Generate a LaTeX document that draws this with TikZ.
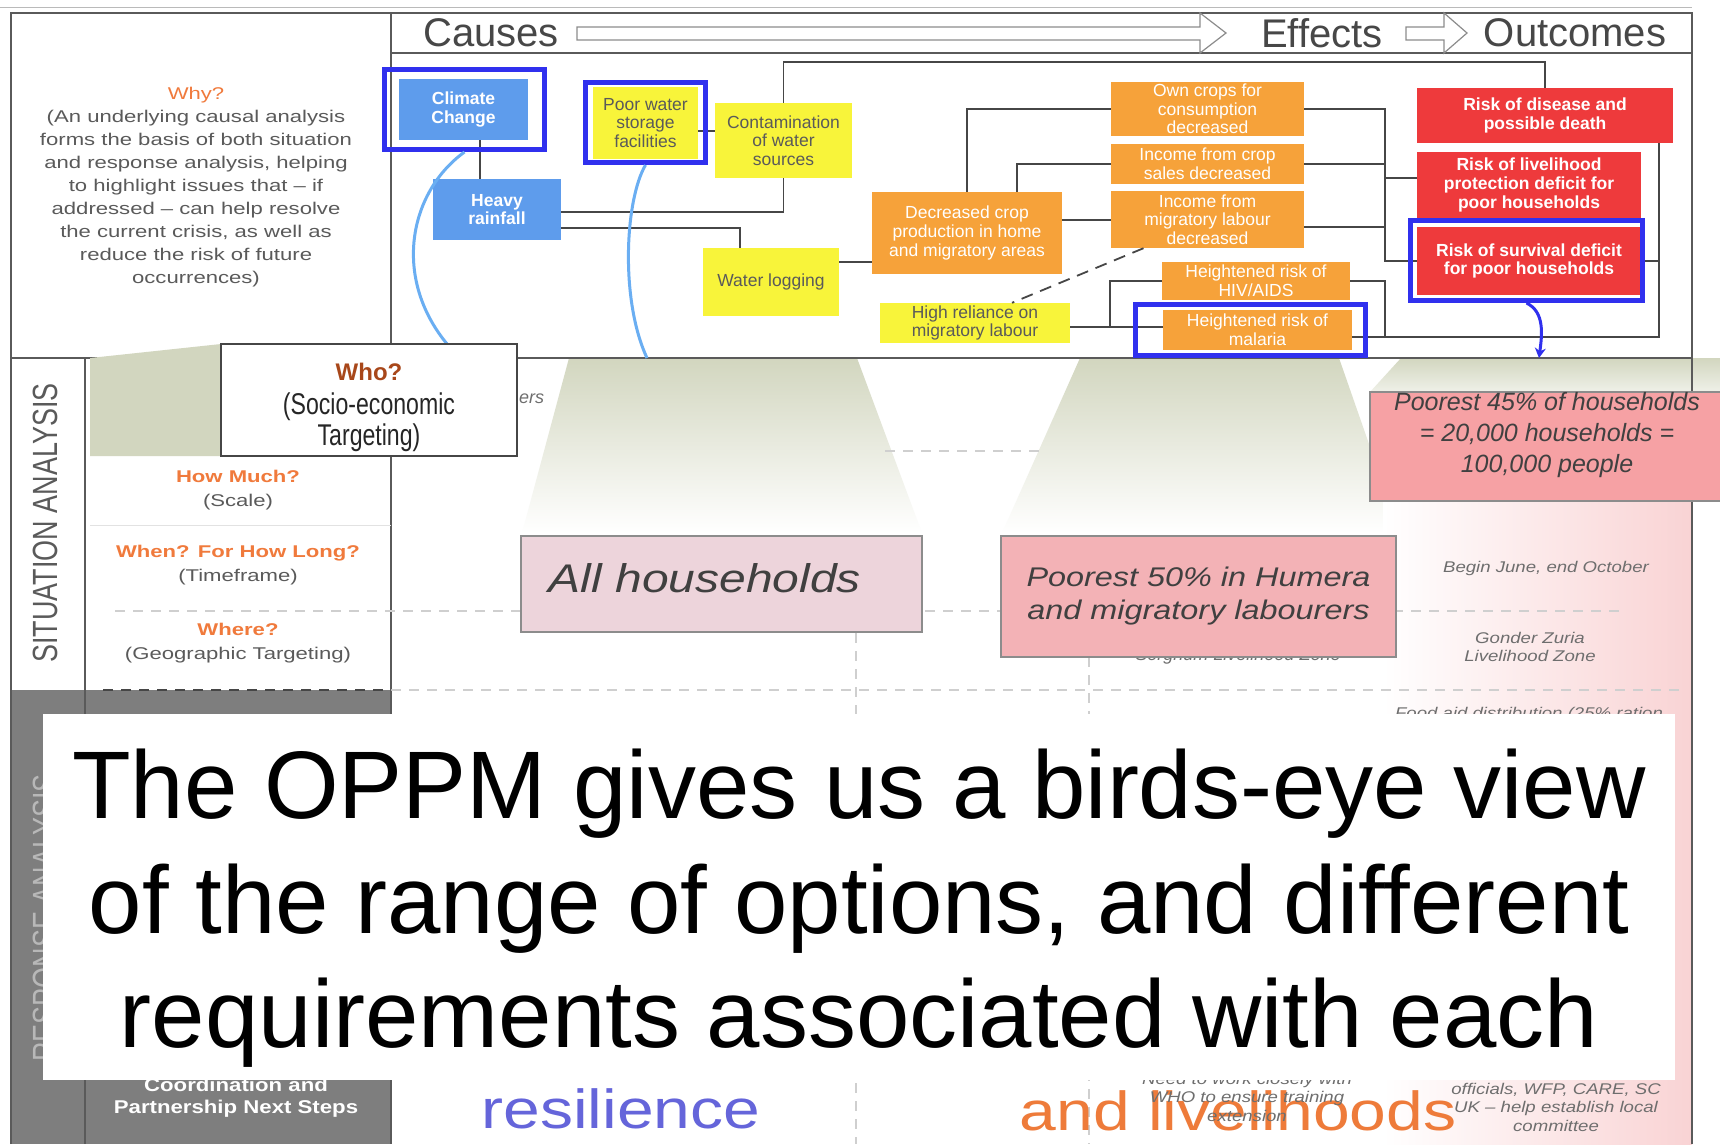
\documentclass[tikz,border=0pt]{standalone}
\usepackage{fontspec}
\setmainfont{Liberation Sans}
\newfontfamily\widesans[FakeStretch=1.2]{Liberation Sans}
\newfontfamily\widersans[FakeStretch=1.3]{Liberation Sans}
\newfontfamily\narrowsans[FakeStretch=0.77]{Liberation Sans}
\usetikzlibrary{arrows.meta}
\definecolor{ccblue}{HTML}{5E9CEC}
\definecolor{postit}{HTML}{F8F43A}
\definecolor{effor}{HTML}{F6A23A}
\definecolor{outred}{HTML}{EE3A3C}
\definecolor{hiblue}{HTML}{3030EE}
\definecolor{skyline}{HTML}{6AAEF2}
\definecolor{wire}{HTML}{464646}
\definecolor{sage}{HTML}{D2D6BF}
\definecolor{pinkwash}{HTML}{F9D3D4}
\definecolor{rosy}{HTML}{EDD4DB}
\definecolor{salmon}{HTML}{F3B2B6}
\definecolor{coral}{HTML}{F6A1A4}
\definecolor{boxedge}{HTML}{8C8C8C}
\definecolor{qorange}{HTML}{F07A3C}
\definecolor{whybrown}{HTML}{A8471A}
\definecolor{txtgray}{HTML}{5A5A5A}
\definecolor{notegray}{HTML}{6E6E6E}
\definecolor{darkband}{HTML}{7E7E7E}
\definecolor{bandtxt}{HTML}{B8B8B8}
\definecolor{resil}{HTML}{6565DA}
\definecolor{livor}{HTML}{EE7B3A}
\definecolor{headgray}{HTML}{474747}
\definecolor{ruleline}{HTML}{CFCFCF}
\definecolor{frameline}{HTML}{5A5A5A}
\def\fsz#1#2{\fontsize{#1}{#2}\selectfont}
\tikzset{
  box/.style={inner sep=0pt, align=center, font=\fsz{17.5}{18.6}},
  causebox/.style={box, fill=ccblue, text=white, font=\fsz{17.5}{18.6}\bfseries},
  postbox/.style={box, fill=postit, text=txtgray},
  effbox/.style={box, fill=effor, text=white},
  riskbox/.style={box, fill=outred, text=white, font=\fsz{17.5}{18.6}\bfseries},
  hilite/.style={draw=hiblue, line width=5pt, inner sep=0pt},
  link/.style={draw=wire, line width=1.8pt},
  swoop/.style={draw=skyline, line width=3pt},
  rim/.style={draw=frameline, line width=1.5pt},
  arrowrim/.style={fill=white, draw=boxedge, line width=1.2pt},
  headtxt/.style={inner sep=0pt, font=\fsz{40}{40}, text=headgray},
  popbox/.style={draw=boxedge, line width=1.2pt, inner sep=0pt, align=center, text=darkgray},
  note/.style={inner sep=0pt, align=center, font=\widesans\itshape\fsz{15.5}{18.5}, text=notegray},
  tableline/.style={draw=ruleline, line width=1.2pt, dash pattern=on 10pt off 8pt},
  lefttxt/.style={inner sep=0pt, align=center, font=\widersans\fsz{17}{24}, text=txtgray},
  bigsay/.style={inner sep=0pt, anchor=base, font=\fsz{96}{115}},
}
\begin{document}
\begin{tikzpicture}[x=1pt,y=-1pt]
\useasboundingbox (0,0) rectangle (1720,1144);
\fill[white] (0,0) rectangle (1720,1144);
%%%%% BACKDROP %%%%%
\shade[top color=sage, bottom color=white] (569,358) -- (857,358) -- (922,533) -- (522,533) -- cycle;
\shade[top color=sage, bottom color=white] (1080,358) -- (1339,358) -- (1400,533) -- (1002,533) -- cycle;
\shade[left color=white, right color=pinkwash] (1383,392) rectangle (1692,1144);
\shade[top color=sage, bottom color=sage!35] (1401,358) -- (1720,358) -- (1720,392) -- (1370,392) -- cycle;
\fill[darkband] (11,690) rectangle (391,1144);

%%%%% FRAME %%%%%
\draw[boxedge!60, line width=1pt] (0,7) -- (1692,7);
\draw[rim] (11,1144) -- (11,13) -- (1692,13) -- (1692,1144);
\draw[rim] (391,53) -- (1692,53);
\draw[rim] (391,13) -- (391,1144);
\draw[rim] (11,358) -- (1692,358);
\draw[rim] (85,358) -- (85,1144);
\draw[ruleline!60, line width=1pt] (90,525) -- (391,525);
\draw[tableline] (115,611) -- (1619,611);
\draw[tableline] (391,690) -- (1679,690);
\draw[tableline, draw=wire] (103,690) -- (391,690);
\draw[tableline] (885,451) -- (1040,451);
\draw[tableline] (856,633) -- (856,1144);
\draw[tableline] (1089,657) -- (1089,1144);

%%%%% HEADER %%%%%
\draw[arrowrim] (577,27) -- (1200,27) -- (1200,13) -- (1226,33) -- (1200,53) -- (1200,40) -- (577,40) -- cycle;
\draw[arrowrim] (1406,27) -- (1444,27) -- (1444,13) -- (1467,33) -- (1444,53) -- (1444,40) -- (1406,40) -- cycle;
\node[headtxt] (causes) at (491,33) {Causes};
\node[headtxt] (effects) at (1322,33) {Effects};
\node[headtxt] (outcomes) at (1575,33) {Outcomes};

%%%%% CAUSES %%%%%
\node[causebox, minimum width=129pt, minimum height=61pt] (cc) at (463.5,109.5) {Climate\\Change};
\node[causebox, minimum width=128pt, minimum height=61pt] (hr) at (497,209.5) {Heavy\\rainfall};
\node[postbox, minimum width=105pt, minimum height=72pt] (pw) at (645.5,123) {Poor water\\storage\\facilities};
\node[postbox, minimum width=137pt, minimum height=75pt] (ct) at (783.5,140.5) {Contamination\\of water\\sources};
\node[postbox, minimum width=136pt, minimum height=68pt] (wl) at (771,282) {Water logging};
\node[postbox, minimum width=190pt, minimum height=40pt] (hl) at (975,323) {High reliance on\\migratory labour};

%%%%% EFFECTS %%%%%
\node[effbox, minimum width=190pt, minimum height=82pt] (dc) at (967,233) {Decreased crop\\production in home\\and migratory areas};
\node[effbox, minimum width=193pt, minimum height=54pt] (oc) at (1207.5,109) {Own crops for\\consumption\\decreased};
\node[effbox, minimum width=193pt, minimum height=40pt] (ic) at (1207.5,164) {Income from crop\\sales decreased};
\node[effbox, minimum width=193pt, minimum height=57pt] (im) at (1207.5,219.5) {Income from\\migratory labour\\decreased};
\node[effbox, minimum width=188pt, minimum height=38pt] (hiv) at (1256,281) {Heightened risk of\\HIV/AIDS};
\node[effbox, minimum width=189pt, minimum height=40pt] (mal) at (1257.5,330) {Heightened risk of\\malaria};

%%%%% OUTCOMES %%%%%
\node[riskbox, minimum width=256pt, minimum height=55pt] (rd) at (1545,115.5) {Risk of disease and\\possible death};
\node[riskbox, minimum width=224pt, minimum height=66pt] (rl) at (1529,185) {Risk of livelihood\\protection deficit for\\poor households};
\node[riskbox, minimum width=224pt, minimum height=68pt] (rs) at (1529,261) {Risk of survival deficit\\for poor households};

%%%%% LINKS %%%%%
\coordinate (ridge) at (1100,62);
\coordinate (jx) at (1110,280);
\coordinate (cx) at (1385,0);
\coordinate (rx) at (1659,0);
\draw[link] ([xshift=16.5pt]cc.south) -- ([xshift=16.5pt]cc.south |- hr.north);
\draw[link] ([yshift=-8pt]pw.east) -- ([yshift=-8pt]pw.east -| ct.west);
\draw[link] ([yshift=-2.5pt]hr.east) -| (ct.south);
\draw[link] ([yshift=-18.5pt]hr.east) -| ([xshift=-31pt]wl.north);
\draw[link] (ct.north) |- (ridge) -| (rd.north);
\draw[link] ([yshift=20pt]wl.east) -- ([yshift=20pt]wl.east -| dc.west);
\draw[link] (dc.north) |- (oc.west);
\draw[link] ([xshift=50pt]dc.north) |- (ic.west);
\draw[link] ([yshift=13pt]dc.east) -- ([yshift=13pt]dc.east -| im.west);
\draw[link, dash pattern=on 12pt off 8pt] ([xshift=-64pt]im.south) -- ([xshift=37pt]hl.north);
\draw[link] ([yshift=-4pt]hl.east) -- ([yshift=-4pt]hl.east -| mal.west);
\draw[link] ([yshift=-4pt]hl.east -| jx) |- (hiv.west);
\draw[link] (oc.east) -- (oc.east -| cx) -- (rs.west -| cx) -- (rs.west);
\draw[link] (ic.east) -- (ic.east -| cx);
\draw[link] ([yshift=-7.5pt]im.east) -- ([yshift=-7.5pt]im.east -| cx);
\draw[link] ([yshift=7pt]rl.west -| cx) -- ([yshift=7pt]rl.west);
\draw[link] (hiv.east) -| ([yshift=-7pt]mal.east -| cx);
\draw[link] ([yshift=-7pt]mal.east) -- ([yshift=-7pt]mal.east -| rx) -- (rd.south -| rx);
\draw[link] (rs.east) -- (rs.east -| rx);

%%%%% HIGHLIGHTS %%%%%
\node[hilite, minimum width=160pt, minimum height=80pt] (ccfrm) at (464.5,109.5) {};
\node[hilite, minimum width=120pt, minimum height=80pt] (pwfrm) at (645.5,122.5) {};
\node[hilite, minimum width=230pt, minimum height=51pt] (malfrm) at (1250.5,330) {};
\node[hilite, minimum width=232pt, minimum height=80pt] (rsfrm) at (1526.5,260.5) {};
\coordinate (drop1) at (460,358);
\coordinate (drop2) at (647,358);
\coordinate (drop3) at (1539,358);
\draw[swoop] (ccfrm.south) .. controls (405,195) and (390,290) .. (drop1);
\draw[swoop] (pwfrm.south) .. controls (625,200) and (620,300) .. (drop2);
\draw[draw=hiblue, line width=3pt, -{Stealth[length=10pt,width=11pt]}] (rsfrm.south) .. controls (1545,312) and (1542,335) .. (drop3);

%%%%% LEFT COLUMN %%%%%
\node[lefttxt, font=\widersans\fsz{17}{23}] (why) at (196,187) {{\color{qorange}Why?}\\(An underlying causal analysis\\forms the basis of both situation\\and response analysis, helping\\to highlight issues that – if\\addressed – can help resolve\\the current crisis, as well as\\reduce the risk of future\\occurrences)};
\node[inner sep=0pt, rotate=90, font=\narrowsans\fsz{35}{35}, text=txtgray] (sitan) at (45,523) {SITUATION ANALYSIS};
\node[lefttxt] (howmuch) at (238,490) {{\bfseries\color{qorange}How Much?}\\(Scale)};
\node[lefttxt] (when) at (238,565.5) {{\bfseries\color{qorange}When? For How Long?}\\(Timeframe)};
\node[lefttxt] (where) at (238,643.5) {{\bfseries\color{qorange}Where?}\\(Geographic Targeting)};
\node[inner sep=0pt, rotate=90, font=\narrowsans\fsz{35}{35}, text=bandtxt] (respan) at (45,918) {RESPONSE ANALYSIS};
\node[inner sep=0pt, align=center, font=\widesans\bfseries\fsz{18.5}{22}, text=white] (coord) at (236,1098) {Coordination and\\Partnership Next Steps};

%%%%% WHO CALLOUT %%%%%
\node[note, anchor=west, font=\itshape\fsz{18}{18}] (ers) at (519,399) {ers};
\fill[sage] (90,358) -- (221,344) -- (221,456) -- (90,456) -- cycle;
\node[draw=wire, line width=1.2pt, fill=white, minimum width=296pt, minimum height=112pt, inner sep=0pt] (whobox) at (369,400) {};
\node[inner sep=0pt, font=\bfseries\fsz{24}{24}, text=whybrown] (who) at (369,372) {Who?};
\node[inner sep=0pt, font=\narrowsans\fsz{30}{30}, text=black!85] (socio) at (369,407) {(Socio-economic};
\node[inner sep=0pt, font=\narrowsans\fsz{30}{30}, text=black!85] (targ) at (369,438) {Targeting)};

%%%%% TABLE %%%%%
\node[popbox, fill=rosy, minimum width=401pt, minimum height=96pt] (allhh) at (721.5,584) {};
\node[inner sep=0pt, font=\widesans\itshape\fsz{40}{40}, text=darkgray] (allhhtxt) at (705,578) {All households};
\node[note, font=\itshape\fsz{18}{18}] (sorghum) at (1238,656) {Sorghum Livelihood Zone};
\node[popbox, fill=salmon, minimum width=395pt, minimum height=121pt, font=\widesans\itshape\fsz{27}{33}] (p50) at (1198.5,596.5) {Poorest 50\% in Humera\\and migratory labourers};
\node[popbox, fill=coral, minimum width=356pt, minimum height=109pt] (p45) at (1548,446.5) {};
\node[inner sep=0pt, align=center, font=\itshape\fsz{25}{31}, text=darkgray] (p45txt) at (1547,435) {Poorest 45\% of households\\= 20,000 households =\\100,000 people};
\node[note] (june) at (1546,568) {Begin June, end October};
\node[note] (gonder) at (1530,647) {Gonder Zuria\\Livelihood Zone};
\node[note] (foodaid) at (1529,714) {Food aid distribution (25\% ration};

%%%%% BOTTOM ROW %%%%%
\node[inner sep=0pt, anchor=base, font=\widesans\fsz{55}{60}, text=resil] (resilience) at (621,1128) {resilience};
\node[inner sep=0pt, anchor=base, font=\widesans\fsz{55}{60}, text=livor] (livelihoods) at (1238,1130) {and livelihoods};
\node[note] (who2) at (1247,1097) {Need to work closely with\\WHO to ensure training\\extension};
\node[note] (partners) at (1556,1107) {officials, WFP, CARE, SC\\UK – help establish local\\committee};

%%%%% MESSAGE %%%%%
\node[fill=white, minimum width=1632pt, minimum height=366pt, inner sep=0pt] (panel) at (859,897) {};
\node[bigsay] (say1) at (859,818) {The OPPM gives us a birds-eye view};
\node[bigsay] (say2) at (859,933) {of the range of options, and different};
\node[bigsay] (say3) at (859,1047) {requirements associated with each};
\end{tikzpicture}
\end{document}
